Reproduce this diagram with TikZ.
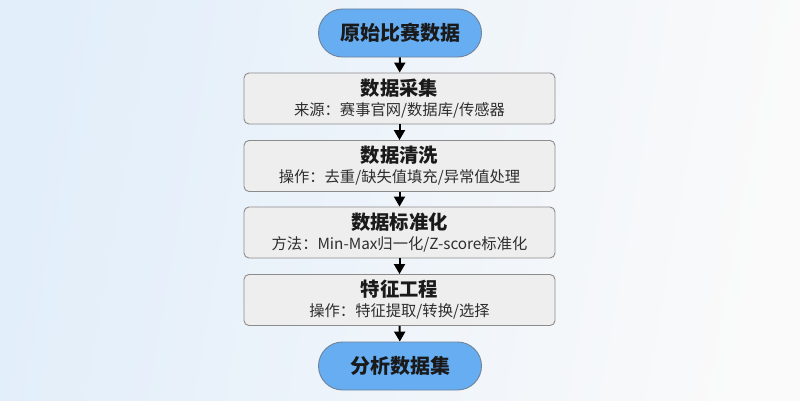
\documentclass[tikz,border=0pt]{standalone}
\usepackage{fontspec}
\setmainfont{Noto Sans CJK SC}
\usetikzlibrary{arrows.meta}
\definecolor{bgL}{HTML}{E2EEFA}
\definecolor{bgR}{HTML}{FAFAFA}
\definecolor{pillfill}{HTML}{66ADF2}
\definecolor{pilldraw}{HTML}{6F839A}
\definecolor{boxfill}{HTML}{EEEEEE}
\definecolor{boxdraw}{HTML}{8C8C8C}
\definecolor{txt}{HTML}{1A1A1A}
\definecolor{subtxt}{HTML}{2E2E2E}
\tikzset{
  pill/.style={draw=pilldraw, line width=0.9pt, fill=pillfill, rounded corners=24pt,
    minimum width=163pt, minimum height=48pt, inner sep=0pt,
    font=\fontsize{20}{24}\selectfont\bfseries, text=txt},
  stepbox/.style={draw=boxdraw, line width=0.9pt, fill=boxfill, rounded corners=5pt,
    minimum width=311pt, minimum height=51pt, inner sep=0pt},
  ttl/.style={font=\fontsize{19.3}{23}\selectfont\bfseries, text=txt, inner sep=0pt},
  sub/.style={font=\fontsize{15.3}{18}\selectfont, text=subtxt, inner sep=0pt},
  arr/.style={-{Triangle[length=10pt,width=11pt]}, line width=2pt, black},
}
\begin{document}
\begin{tikzpicture}[x=1pt,y=1pt]
\shade[left color=bgL, right color=bgR, shading angle=80] (0,0) rectangle (800,400);
\useasboundingbox (0,0) rectangle (800,400);

\node[pill] (start) at (400,367) {原始比赛数据};

\node[stepbox] (b1) at (399.5,301.5) {};
\node[ttl] (t1) at (399.5,312) {数据采集};
\node[sub] (s1) at (399.5,290) {来源：赛事官网/数据库/传感器};

\node[stepbox] (b2) at (399.5,234) {};
\node[ttl] (t2) at (399.5,244.5) {数据清洗};
\node[sub] (s2) at (399.5,222.5) {操作：去重/缺失值填充/异常值处理};

\node[stepbox] (b3) at (399.5,167.5) {};
\node[ttl] (t3) at (399.5,178) {数据标准化};
\node[sub] (s3) at (399.5,156) {方法：Min-Max归一化/Z-score标准化};

\node[stepbox] (b4) at (399.5,100) {};
\node[ttl] (t4) at (399.5,110.5) {特征工程};
\node[sub] (s4) at (399.5,88.5) {操作：特征提取/转换/选择};

\node[pill] (end) at (400,34) {分析数据集};

\draw[arr] (start) -- (b1);
\draw[arr] (b1) -- (b2);
\draw[arr] (b2) -- (b3);
\draw[arr] (b3) -- (b4);
\draw[arr] (b4) -- (end);
\end{tikzpicture}
\end{document}
